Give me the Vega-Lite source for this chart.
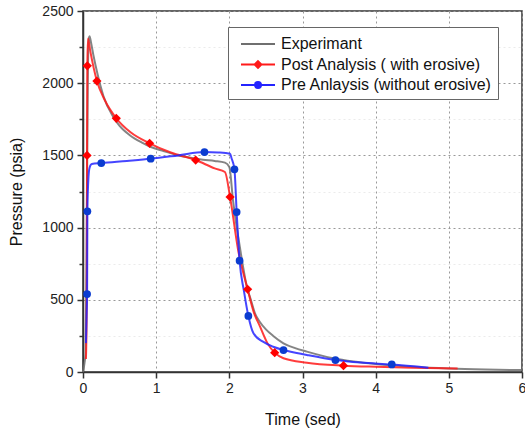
{
  "$schema": "https://vega.github.io/schema/vega-lite/v6.json",
  "width": 439,
  "height": 361,
  "autosize": "none",
  "padding": {"left": 83, "top": 11, "right": 3, "bottom": 60},
  "background": "white",
  "config": {
    "font": "Liberation Sans",
    "view": {"stroke": "#333333", "strokeWidth": 1.5},
    "axis": {
      "domainColor": "#333333",
      "domainWidth": 1.5,
      "tickColor": "#333333",
      "tickWidth": 1.5,
      "labelFontSize": 14,
      "labelColor": "#222222",
      "titleFontSize": 16,
      "titleFontWeight": "normal",
      "titleColor": "#111111",
      "gridColor": "#999999",
      "gridDash": [2, 3]
    },
    "legend": {
      "orient": "none",
      "legendX": 145,
      "legendY": 16,
      "padding": 6,
      "strokeColor": "#666666",
      "fillColor": "white",
      "labelFontSize": 16,
      "labelColor": "#111111",
      "labelLimit": 400,
      "labelOffset": 12,
      "symbolSize": 400,
      "symbolOffset": 13,
      "symbolStrokeWidth": 2,
      "symbolOpacity": 1,
      "rowPadding": 1.5
    }
  },
  "data": {
    "values": [
      {"s": "Experimant", "t": 0, "p": 0, "m": 0},
      {"s": "Experimant", "t": 0.02, "p": 60, "m": 0},
      {"s": "Experimant", "t": 0.035, "p": 130, "m": 0},
      {"s": "Experimant", "t": 0.05, "p": 900, "m": 0},
      {"s": "Experimant", "t": 0.065, "p": 2000, "m": 0},
      {"s": "Experimant", "t": 0.08, "p": 2310, "m": 0},
      {"s": "Experimant", "t": 0.09, "p": 2325, "m": 0},
      {"s": "Experimant", "t": 0.11, "p": 2280, "m": 0},
      {"s": "Experimant", "t": 0.14, "p": 2200, "m": 0},
      {"s": "Experimant", "t": 0.2, "p": 2060, "m": 0},
      {"s": "Experimant", "t": 0.28, "p": 1910, "m": 0},
      {"s": "Experimant", "t": 0.41, "p": 1770, "m": 0},
      {"s": "Experimant", "t": 0.5, "p": 1705, "m": 0},
      {"s": "Experimant", "t": 0.64, "p": 1640, "m": 0},
      {"s": "Experimant", "t": 0.8, "p": 1590, "m": 0},
      {"s": "Experimant", "t": 0.92, "p": 1560, "m": 0},
      {"s": "Experimant", "t": 1.1, "p": 1530, "m": 0},
      {"s": "Experimant", "t": 1.28, "p": 1503, "m": 0},
      {"s": "Experimant", "t": 1.45, "p": 1485, "m": 0},
      {"s": "Experimant", "t": 1.64, "p": 1470, "m": 0},
      {"s": "Experimant", "t": 1.8, "p": 1462, "m": 0},
      {"s": "Experimant", "t": 1.94, "p": 1450, "m": 0},
      {"s": "Experimant", "t": 2.0, "p": 1420, "m": 0},
      {"s": "Experimant", "t": 2.05, "p": 1190, "m": 0},
      {"s": "Experimant", "t": 2.15, "p": 845, "m": 0},
      {"s": "Experimant", "t": 2.24, "p": 590, "m": 0},
      {"s": "Experimant", "t": 2.3, "p": 490, "m": 0},
      {"s": "Experimant", "t": 2.35, "p": 406, "m": 0},
      {"s": "Experimant", "t": 2.42, "p": 345, "m": 0},
      {"s": "Experimant", "t": 2.5, "p": 295, "m": 0},
      {"s": "Experimant", "t": 2.6, "p": 250, "m": 0},
      {"s": "Experimant", "t": 2.74, "p": 199, "m": 0},
      {"s": "Experimant", "t": 2.9, "p": 165, "m": 0},
      {"s": "Experimant", "t": 3.06, "p": 141, "m": 0},
      {"s": "Experimant", "t": 3.25, "p": 115, "m": 0},
      {"s": "Experimant", "t": 3.42, "p": 95, "m": 0},
      {"s": "Experimant", "t": 3.7, "p": 72, "m": 0},
      {"s": "Experimant", "t": 4.0, "p": 55, "m": 0},
      {"s": "Experimant", "t": 4.5, "p": 36, "m": 0},
      {"s": "Experimant", "t": 5.0, "p": 24, "m": 0},
      {"s": "Experimant", "t": 5.5, "p": 17, "m": 0},
      {"s": "Experimant", "t": 6.0, "p": 13, "m": 0},

      {"s": "Post Analysis ( with erosive)", "t": 0.04, "p": 90, "m": 0},
      {"s": "Post Analysis ( with erosive)", "t": 0.05, "p": 400, "m": 0},
      {"s": "Post Analysis ( with erosive)", "t": 0.055, "p": 1500, "m": 1},
      {"s": "Post Analysis ( with erosive)", "t": 0.059, "p": 2120, "m": 1},
      {"s": "Post Analysis ( with erosive)", "t": 0.068, "p": 2310, "m": 0},
      {"s": "Post Analysis ( with erosive)", "t": 0.1, "p": 2220, "m": 0},
      {"s": "Post Analysis ( with erosive)", "t": 0.19, "p": 2015, "m": 1},
      {"s": "Post Analysis ( with erosive)", "t": 0.3, "p": 1880, "m": 0},
      {"s": "Post Analysis ( with erosive)", "t": 0.455, "p": 1757, "m": 1},
      {"s": "Post Analysis ( with erosive)", "t": 0.65, "p": 1660, "m": 0},
      {"s": "Post Analysis ( with erosive)", "t": 0.91, "p": 1584, "m": 1},
      {"s": "Post Analysis ( with erosive)", "t": 1.2, "p": 1520, "m": 0},
      {"s": "Post Analysis ( with erosive)", "t": 1.54, "p": 1468, "m": 1},
      {"s": "Post Analysis ( with erosive)", "t": 1.8, "p": 1410, "m": 0},
      {"s": "Post Analysis ( with erosive)", "t": 1.94, "p": 1385, "m": 0},
      {"s": "Post Analysis ( with erosive)", "t": 2.01, "p": 1212, "m": 1},
      {"s": "Post Analysis ( with erosive)", "t": 2.12, "p": 845, "m": 0},
      {"s": "Post Analysis ( with erosive)", "t": 2.25, "p": 573, "m": 1},
      {"s": "Post Analysis ( with erosive)", "t": 2.33, "p": 420, "m": 0},
      {"s": "Post Analysis ( with erosive)", "t": 2.42, "p": 314, "m": 0},
      {"s": "Post Analysis ( with erosive)", "t": 2.52, "p": 200, "m": 0},
      {"s": "Post Analysis ( with erosive)", "t": 2.62, "p": 134, "m": 1},
      {"s": "Post Analysis ( with erosive)", "t": 2.74, "p": 95, "m": 0},
      {"s": "Post Analysis ( with erosive)", "t": 3.06, "p": 64, "m": 0},
      {"s": "Post Analysis ( with erosive)", "t": 3.56, "p": 44, "m": 1},
      {"s": "Post Analysis ( with erosive)", "t": 4.0, "p": 36, "m": 0},
      {"s": "Post Analysis ( with erosive)", "t": 4.5, "p": 30, "m": 0},
      {"s": "Post Analysis ( with erosive)", "t": 5.12, "p": 24, "m": 0},

      {"s": "Pre Anlaysis (without erosive)", "t": 0.04, "p": 200, "m": 0},
      {"s": "Pre Anlaysis (without erosive)", "t": 0.05, "p": 400, "m": 0},
      {"s": "Pre Anlaysis (without erosive)", "t": 0.056, "p": 540, "m": 1},
      {"s": "Pre Anlaysis (without erosive)", "t": 0.06, "p": 1113, "m": 1},
      {"s": "Pre Anlaysis (without erosive)", "t": 0.075, "p": 1350, "m": 0},
      {"s": "Pre Anlaysis (without erosive)", "t": 0.09, "p": 1415, "m": 0},
      {"s": "Pre Anlaysis (without erosive)", "t": 0.12, "p": 1440, "m": 0},
      {"s": "Pre Anlaysis (without erosive)", "t": 0.25, "p": 1447, "m": 1},
      {"s": "Pre Anlaysis (without erosive)", "t": 0.6, "p": 1462, "m": 0},
      {"s": "Pre Anlaysis (without erosive)", "t": 0.925, "p": 1477, "m": 1},
      {"s": "Pre Anlaysis (without erosive)", "t": 1.3, "p": 1500, "m": 0},
      {"s": "Pre Anlaysis (without erosive)", "t": 1.66, "p": 1523, "m": 1},
      {"s": "Pre Anlaysis (without erosive)", "t": 1.85, "p": 1520, "m": 0},
      {"s": "Pre Anlaysis (without erosive)", "t": 2.01, "p": 1512, "m": 0},
      {"s": "Pre Anlaysis (without erosive)", "t": 2.03, "p": 1480, "m": 0},
      {"s": "Pre Anlaysis (without erosive)", "t": 2.07, "p": 1404, "m": 1},
      {"s": "Pre Anlaysis (without erosive)", "t": 2.1, "p": 1108, "m": 1},
      {"s": "Pre Anlaysis (without erosive)", "t": 2.14, "p": 771, "m": 1},
      {"s": "Pre Anlaysis (without erosive)", "t": 2.2, "p": 560, "m": 0},
      {"s": "Pre Anlaysis (without erosive)", "t": 2.26, "p": 388, "m": 1},
      {"s": "Pre Anlaysis (without erosive)", "t": 2.33, "p": 268, "m": 0},
      {"s": "Pre Anlaysis (without erosive)", "t": 2.46, "p": 210, "m": 0},
      {"s": "Pre Anlaysis (without erosive)", "t": 2.6, "p": 175, "m": 0},
      {"s": "Pre Anlaysis (without erosive)", "t": 2.74, "p": 152, "m": 1},
      {"s": "Pre Anlaysis (without erosive)", "t": 3.06, "p": 118, "m": 0},
      {"s": "Pre Anlaysis (without erosive)", "t": 3.45, "p": 83, "m": 1},
      {"s": "Pre Anlaysis (without erosive)", "t": 3.8, "p": 65, "m": 0},
      {"s": "Pre Anlaysis (without erosive)", "t": 4.22, "p": 52, "m": 1},
      {"s": "Pre Anlaysis (without erosive)", "t": 4.72, "p": 30, "m": 0}
    ]
  },
  "encoding": {
    "x": {
      "field": "t",
      "type": "quantitative",
      "scale": {"domain": [0, 6], "nice": false},
      "axis": {
        "title": "Time (sed)",
        "values": [0, 0.5, 1, 1.5, 2, 2.5, 3, 3.5, 4, 4.5, 5, 5.5, 6],
        "format": "d",
        "labelExpr": "datum.value % 1 === 0 ? datum.label : ''",
        "tickSize": {"condition": {"test": "datum.value % 1 !== 0", "value": 4}, "value": 6},
        "gridOpacity": {"condition": {"test": "datum.value % 1 !== 0", "value": 0.2}, "value": 1},
        "labelPadding": 3,
        "titlePadding": 16,
        "labelFlush": false,
        "labelOverlap": false
      }
    },
    "y": {
      "field": "p",
      "type": "quantitative",
      "scale": {"domain": [0, 2500], "nice": false},
      "axis": {
        "title": "Pressure (psia)",
        "values": [0, 250, 500, 750, 1000, 1250, 1500, 1750, 2000, 2250, 2500],
        "labelExpr": "datum.value % 500 === 0 ? datum.label : ''",
        "tickSize": {"condition": {"test": "datum.value % 500 !== 0", "value": 4}, "value": 6},
        "gridOpacity": {"condition": {"test": "datum.value % 500 !== 0", "value": 0.2}, "value": 1},
        "labelPadding": 4,
        "titlePadding": 17,
        "labelFlush": false,
        "labelOverlap": false,
        "format": "d"
      }
    },
    "color": {
      "field": "s",
      "type": "nominal",
      "title": null,
      "scale": {
        "domain": ["Experimant", "Post Analysis ( with erosive)", "Pre Anlaysis (without erosive)"],
        "range": ["#6f6f6f", "#ff1a1a", "#2424ff"]
      }
    }
  },
  "layer": [
    {
      "mark": {"type": "line", "strokeWidth": 2, "interpolate": "monotone", "opacity": 0.85}
    },
    {
      "transform": [{"filter": "datum.m == 1 && datum.s === 'Post Analysis ( with erosive)'"}],
      "mark": {"type": "point", "shape": "diamond", "filled": true, "size": 85, "color": "#ff0000", "opacity": 1},
      "encoding": {"color": {"value": "#ff0000"}}
    },
    {
      "transform": [{"filter": "datum.m == 1 && datum.s === 'Pre Anlaysis (without erosive)'"}],
      "mark": {"type": "point", "shape": "circle", "filled": true, "size": 60, "color": "#0b3cd0", "opacity": 1},
      "encoding": {"color": {"value": "#0b3cd0"}}
    },
    {
      "transform": [{"filter": "datum.m == 9"}],
      "mark": {"type": "point", "filled": false, "strokeWidth": 2, "opacity": 1},
      "encoding": {
        "shape": {
          "field": "s",
          "type": "nominal",
          "title": null,
          "scale": {
            "domain": ["Experimant", "Post Analysis ( with erosive)", "Pre Anlaysis (without erosive)"],
            "range": [
              "M-1.7,0H1.7",
              "M-1.7,0H1.7M0,-0.34L0.34,0L0,0.34L-0.34,0ZM0,-0.2L0.2,0L0,0.2L-0.2,0ZM0,-0.07L0.07,0L0,0.07L-0.07,0Z",
              "M-1.7,0H1.7M0.3,0A0.3,0.3,0,1,1,-0.3,0A0.3,0.3,0,1,1,0.3,0ZM0.15,0A0.15,0.15,0,1,1,-0.15,0A0.15,0.15,0,1,1,0.15,0ZM0.04,0A0.04,0.04,0,1,1,-0.04,0A0.04,0.04,0,1,1,0.04,0Z"
            ]
          }
        }
      }
    }
  ]
}
